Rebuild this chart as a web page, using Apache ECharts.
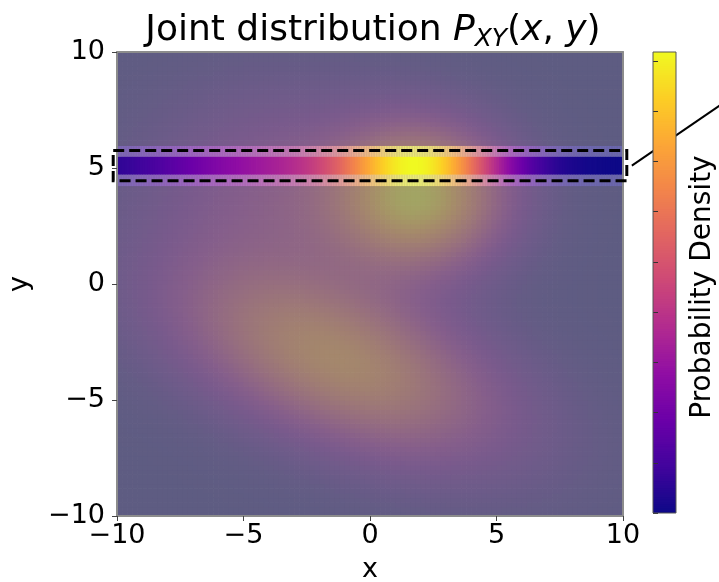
<!DOCTYPE html>
<html><head><meta charset="utf-8">
<script src="https://cdn.jsdelivr.net/npm/echarts@6/dist/echarts.min.js"></script>
<style>html,body{margin:0;padding:0;background:#fff}#c{width:719px;height:582px}</style>
</head><body><div id="c"></div>
<script>
// Gaussian mixture components (peak heights are relative)
const compMuX = [2.0, -1.2, -3.5];
const compMuY = [3.8, -3.3, 4.0];
const compSx  = [2.3, 4.3, 3.5];
const compSy  = [2.1, 2.8, 3.0];
const compRho = [0.0, -0.5, 0.0];
const compH   = [1.0, 0.82, 0.32];
// axes
const xTicks = [-10, -5, 0, 5, 10];
const yTicks = [-10, -5, 0, 5, 10];
const cbMax = 0.045, cbInterval = 0.005;   // colour-bar tick spacing (labels hidden)
const sliceY = 5.1;                 // highlighted slice
const sliceBoxX = [-10.15, 10.15];
const sliceBoxY = [4.45, 5.75];
const sliceCoreY = [4.72, 5.48];
const sliceHaloY = [4.22, 5.95];
const connectorFrom = [10.35, 5.1];
const plasma = ['#0d0887','#41049d','#6a00a8','#8f0da4','#b12a90','#cc4778','#e16462','#f2844b','#fca636','#fcce25','#f0f921'];

const FONT = 'DejaVu Sans';
const STEP = 0.2, HALF = STEP / 2;
const SSTEP = 0.1, SHALF = SSTEP / 2;
const CBSTEP = 0.005;

function dens(x, y) {
  let s = 0;
  for (let i = 0; i < compH.length; i++) {
    const dx = (x - compMuX[i]) / compSx[i], dy = (y - compMuY[i]) / compSy[i], r = compRho[i];
    const q = (dx * dx - 2 * r * dx * dy + dy * dy) / (1 - r * r);
    s += compH[i] * Math.exp(-q / 2);
  }
  return s;
}
const bg = [];
let gmax = 0;
const n = Math.round(20 / STEP);
for (let i = 0; i < n; i++) for (let j = 0; j < n; j++) {
  const x = -10 + STEP * (i + 0.5), y = -10 + STEP * (j + 0.5);
  const v = dens(x, y); gmax = Math.max(gmax, v);
  bg.push([x, y, v]);
}
const row = [];
const ns = Math.round(20 / SSTEP);
for (let i = 0; i < ns; i++) { const x = -10 + SSTEP * (i + 0.5); row.push([x, dens(x, sliceY)]); }
let rmin = Infinity, rmax = -Infinity;
row.forEach(d => { rmin = Math.min(rmin, d[1]); rmax = Math.max(rmax, d[1]); });
const rowN = row.map(d => [d[0], (d[1] - rmin) / (rmax - rmin)]);
const cbLevels = [];
for (let k = 0; k < Math.round(1 / CBSTEP); k++) cbLevels.push([0.5, CBSTEP * (k + 0.5)]);

function mix(hex, a) {
  const c = parseInt(hex.slice(1), 16);
  const r = (c >> 16) & 255, g = (c >> 8) & 255, b = c & 255;
  const f = v => Math.round(v * a + 128 * (1 - a));
  return 'rgb(' + f(r) + ',' + f(g) + ',' + f(b) + ')';
}
const plasmaGray = plasma.map(c => mix(c, 0.3));
const minus = v => String(v).replace('-', '\u2212');

function bgRender(params, api) {
  const x = api.value(0), y = api.value(1);
  const a = api.coord([x - HALF, y + HALF]), b = api.coord([x + HALF, y - HALF]);
  return { type: 'rect', shape: { x: a[0], y: a[1], width: b[0] - a[0] + 0.7, height: b[1] - a[1] + 0.7 }, style: { fill: api.visual('color') } };
}
function stripRender(yr, lift, op) {
  return function (params, api) {
    const x = api.value(0);
    const a = api.coord([x - SHALF, yr[1]]), b = api.coord([x + SHALF, yr[0]]);
    let c = api.visual('color');
    if (lift) c = echarts.color.lift(c, lift);
    return { type: 'rect', shape: { x: a[0], y: a[1], width: b[0] - a[0] + 0.7, height: b[1] - a[1] }, style: { fill: c, opacity: op } };
  };
}
function cbRender(params, api) {
  const v = api.value(1);
  const a = api.coord([0, v + CBSTEP / 2]), b = api.coord([1, v - CBSTEP / 2]);
  return { type: 'rect', shape: { x: a[0], y: a[1] - 0.4, width: b[0] - a[0], height: b[1] - a[1] + 0.8 }, style: { fill: api.visual('color') } };
}
const spine = { show: true, onZero: false, lineStyle: { color: '#8c8c8c', width: 2 } };
const FS = 27;
const lbl = { fontSize: FS, color: '#000', fontFamily: FONT };
const TFS = 36;

const chart = echarts.init(document.getElementById('c'), null, { renderer: 'canvas' });
const option = {
  animation: false,
  title: {
    text: '{a|Joint distribution }{i|P}{s|XY}{a|(}{i|x}{a|, }{i|y}{a|)}',
    left: 368, top: 5, textAlign: 'center',
    textStyle: {
      fontSize: TFS, lineHeight: 42, fontWeight: 'normal',
      rich: {
        a: { fontSize: TFS, fontFamily: FONT, fontWeight: 'normal', color: '#000', lineHeight: 42 },
        i: { fontSize: TFS, fontFamily: FONT, fontWeight: 'normal', fontStyle: 'italic', color: '#000', lineHeight: 42 },
        s: { fontSize: 25, fontFamily: FONT, fontWeight: 'normal', fontStyle: 'italic', color: '#000', lineHeight: 25, verticalAlign: 'bottom' }
      }
    }
  },
  grid: [
    { left: 117, top: 52, width: 506, height: 464, outerBoundsMode: 'none', containLabel: false },
    { left: 653, top: 52, width: 23, height: 461, outerBoundsMode: 'none', containLabel: false },
    { left: 653, top: 61, width: 23, height: 452, outerBoundsMode: 'none', containLabel: false }
  ],
  xAxis: [
    { gridIndex: 0, type: 'value', min: -10, max: 10, interval: 5, position: 'bottom', z: 5,
      axisLine: spine, axisTick: { show: true, length: 5, lineStyle: { color: '#444' } },
      axisLabel: Object.assign({ margin: 6, formatter: minus, customValues: xTicks }, lbl),
      splitLine: { show: false },
      name: 'x', nameLocation: 'middle', nameGap: 40, nameTextStyle: lbl },
    { gridIndex: 0, type: 'value', min: -10, max: 10, position: 'top', z: 5, axisLine: spine,
      axisTick: { show: false }, axisLabel: { show: false }, splitLine: { show: false } },
    { gridIndex: 1, type: 'value', show: false, min: 0, max: 1 },
    { gridIndex: 2, type: 'value', show: false, min: 0, max: 1 }
  ],
  yAxis: [
    { gridIndex: 0, type: 'value', min: -10, max: 10, interval: 5, position: 'left', z: 5,
      axisLine: spine, axisTick: { show: true, length: 5, lineStyle: { color: '#444' } },
      axisLabel: Object.assign({ margin: 12, formatter: minus, customValues: yTicks }, lbl),
      splitLine: { show: false },
      name: 'y', nameLocation: 'middle', nameGap: 84, nameRotate: 90, nameTextStyle: lbl },
    { gridIndex: 0, type: 'value', min: -10, max: 10, position: 'right', z: 5, axisLine: spine,
      axisTick: { show: false }, axisLabel: { show: false }, splitLine: { show: false } },
    { gridIndex: 1, type: 'value', show: false, min: 0, max: 1 },
    { gridIndex: 2, type: 'value', min: 0, max: cbMax, interval: cbInterval, position: 'right', z: 6,
      axisLine: { show: false }, axisTick: { show: true, inside: false, length: 5, lineStyle: { color: '#333', width: 1 } },
      axisLabel: { show: false }, splitLine: { show: false },
      name: 'Probability Density', nameLocation: 'middle', nameGap: 13, nameRotate: 90,
      nameTextStyle: { fontSize: 28, color: '#000', fontFamily: FONT } }
  ],
  visualMap: [
    { type: 'continuous', show: false, seriesIndex: 0, dimension: 2, min: 0, max: gmax, inRange: { color: plasmaGray } },
    { type: 'continuous', show: false, seriesIndex: [1, 2, 3], dimension: 1, min: 0, max: 1, inRange: { color: plasma } }
  ],
  series: [
    { type: 'custom', xAxisIndex: 0, yAxisIndex: 0, data: bg, renderItem: bgRender, clip: true, silent: true,
      encode: { x: 0, y: 1 }, z: 1 },
    { type: 'custom', xAxisIndex: 0, yAxisIndex: 0, data: rowN, renderItem: stripRender(sliceHaloY, 0.4, 0.7), clip: true, silent: true,
      encode: { x: 0, y: 1 }, z: 2 },
    { type: 'custom', xAxisIndex: 0, yAxisIndex: 0, data: rowN, renderItem: stripRender(sliceCoreY, 0, 1), clip: false, silent: true,
      encode: { x: 0, y: 1 }, z: 3 },
    { type: 'custom', xAxisIndex: 2, yAxisIndex: 2, data: cbLevels, renderItem: cbRender, clip: true, silent: true,
      encode: { x: 0, y: 1 }, z: 3 }
  ]
};
chart.setOption(option);
const p = chart.convertToPixel({ gridIndex: 0 }, connectorFrom);
const b0 = chart.convertToPixel({ gridIndex: 0 }, [sliceBoxX[0], sliceBoxY[1]]);
const b1 = chart.convertToPixel({ gridIndex: 0 }, [sliceBoxX[1], sliceBoxY[0]]);
const c0 = chart.convertToPixel({ gridIndex: 1 }, [0, 1]);
const c1 = chart.convertToPixel({ gridIndex: 1 }, [1, 0]);
chart.setOption({
  graphic: [
    { type: 'line', z: 1, shape: { x1: p[0], y1: p[1], x2: p[0] + 130, y2: p[1] - 89 }, style: { stroke: '#000', lineWidth: 2 } },
    { type: 'rect', z: 50, shape: { x: b0[0], y: b0[1], width: b1[0] - b0[0], height: b1[1] - b0[1] },
      style: { fill: null, stroke: '#000', lineWidth: 3, lineDash: [11, 5] } },
    { type: 'rect', z: 50, shape: { x: c0[0], y: c0[1], width: c1[0] - c0[0], height: c1[1] - c0[1] },
      style: { fill: null, stroke: '#555', lineWidth: 1 } }
  ]
});
</script></body></html>
